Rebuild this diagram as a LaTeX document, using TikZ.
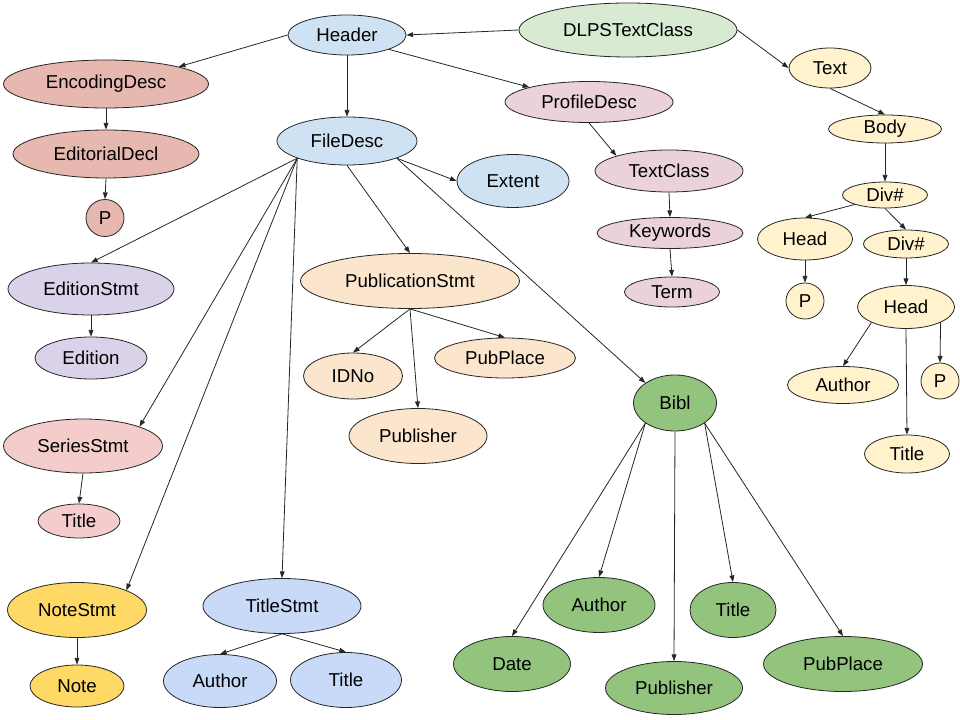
\documentclass[tikz,border=0pt]{standalone}
\usepackage{fontspec}
\setmainfont{Liberation Sans}
\usetikzlibrary{shapes.geometric,arrows.meta}

\definecolor{hdrblue}{HTML}{CFE2F3}
\definecolor{rootgreen}{HTML}{D9EAD3}
\definecolor{encberry}{HTML}{E6B8AF}
\definecolor{profpink}{HTML}{EAD1DC}
\definecolor{textyellow}{HTML}{FFF2CC}
\definecolor{edpurple}{HTML}{D9D2E9}
\definecolor{puborange}{HTML}{FCE5CD}
\definecolor{serred}{HTML}{F4CCCC}
\definecolor{notegold}{HTML}{FFD966}
\definecolor{titlecorn}{HTML}{C9DAF8}
\definecolor{biblgreen}{HTML}{93C47D}

\tikzset{
  elem/.style={ellipse, draw=black!85, line width=0.6pt, inner sep=0pt,
    font=\fontsize{14}{16}\selectfont},
  sz/.style 2 args={minimum width=#1*0.75pt, minimum height=#2*0.75pt},
  link/.style={draw=black!85, line width=0.6pt, -{Triangle[length=5pt,width=3.6pt]}}
}

\begin{document}
\begin{tikzpicture}[x=0.75pt, y=-0.75pt]
			%%%%% START %%%%%
			\useasboundingbox (0,0) rectangle (960,720);
			
			% top
			\node[elem, sz={218}{54}, fill=rootgreen] (dlps) at (628,30) {DLPSTextClass};
			\node[elem, sz={118}{40}, fill=hdrblue] (header) at (347,35) {Header};
			
			% encoding
			\node[elem, sz={205}{48}, fill=encberry] (encdesc) at (106,84) {EncodingDesc};
			\node[elem, sz={186}{48}, fill=encberry] (editdecl) at (106,154) {EditorialDecl};
			\node[elem, sz={38}{37}, fill=encberry] (edp) at (105,218) {P};
			
			% file description
			\node[elem, sz={140}{48}, fill=hdrblue] (filedesc) at (347,141) {FileDesc};
			\node[elem, sz={112}{53}, fill=hdrblue] (extent) at (513,181) {Extent};
			
			\node[elem, sz={166}{52}, fill=edpurple] (edstmt) at (91,289) {EditionStmt};
			\node[elem, sz={112}{42}, fill=edpurple] (edition) at (91,358) {Edition};
			
			\node[elem, sz={159}{54}, fill=serred] (serstmt) at (83,446) {SeriesStmt};
			\node[elem, sz={82}{34}, fill=serred] (sertitle) at (79,521) {Title};
			
			\node[elem, sz={139}{55}, fill=notegold] (notestmt) at (77,610) {NoteStmt};
			\node[elem, sz={94}{42}, fill=notegold] (note) at (77,686) {Note};
			
			\node[elem, sz={158}{55}, fill=titlecorn] (titlestmt) at (282,606) {TitleStmt};
			\node[elem, sz={113}{53}, fill=titlecorn] (tsauthor) at (220,681) {Author};
			\node[elem, sz={111}{55}, fill=titlecorn] (tstitle) at (346,680) {Title};
			
			\node[elem, sz={219}{55}, fill=puborange] (pubstmt) at (410,281) {PublicationStmt};
			\node[elem, sz={99}{46}, fill=puborange] (idno) at (353,376) {IDNo};
			\node[elem, sz={141}{40}, fill=puborange] (pubplace) at (505,358) {PubPlace};
			\node[elem, sz={138}{55}, fill=puborange] (publisher) at (418,436) {Publisher};
			
			% bibl
			\node[elem, sz={83}{56}, fill=biblgreen] (bibl) at (675,403) {Bibl};
			\node[elem, sz={117}{55}, fill=biblgreen] (bdate) at (512,664) {Date};
			\node[elem, sz={112}{55}, fill=biblgreen] (bauthor) at (599,605) {Author};
			\node[elem, sz={137}{53}, fill=biblgreen] (bpublisher) at (674,688) {Publisher};
			\node[elem, sz={86}{55}, fill=biblgreen] (btitle) at (733,610) {Title};
			\node[elem, sz={159}{55}, fill=biblgreen] (bpubplace) at (843,664) {PubPlace};
			
			% profile description
			\node[elem, sz={168}{41}, fill=profpink] (profdesc) at (589,102) {ProfileDesc};
			\node[elem, sz={148}{42}, fill=profpink] (textclass) at (669,171) {TextClass};
			\node[elem, sz={146}{31}, fill=profpink] (keywords) at (670,233) {Keywords};
			\node[elem, sz={95}{30}, fill=profpink] (term) at (672,292) {Term};
			
			% text
			\node[elem, sz={82}{40}, fill=textyellow] (text) at (830,68) {Text};
			\node[elem, sz={113}{28}, fill=textyellow] (body) at (885,129) {Body};
			\node[elem, sz={85}{26}, fill=textyellow] (diva) at (885,195) {Div\#};
			\node[elem, sz={95}{42}, fill=textyellow] (heada) at (805,239) {Head};
			\node[elem, sz={38}{36}, fill=textyellow] (headp) at (805,301) {P};
			\node[elem, sz={85}{28}, fill=textyellow] (divb) at (906,244) {Div\#};
			\node[elem, sz={97}{43}, fill=textyellow] (headb) at (906,307) {Head};
			\node[elem, sz={111}{37}, fill=textyellow] (divauthor) at (843,385) {Author};
			\node[elem, sz={38}{36}, fill=textyellow] (divp) at (940,381) {P};
			\node[elem, sz={85}{38}, fill=textyellow] (divtitle) at (907,454) {Title};
			
			% connectors
			\draw[link] (dlps.west) -- (header.east);
			\draw[link] (dlps.east) -- (text.west);
			\draw[link] (header.west) -- (encdesc.north east);
			\draw[link] (header.south) -- (filedesc.north);
			\draw[link] (header.south east) -- (profdesc.north west);
			
			\draw[link] (encdesc.south) -- (editdecl.north);
			\draw[link] (editdecl.south) -- (edp.north);
			
			\draw[link] (filedesc.south west) -- (edstmt.north);
			\draw[link] (filedesc.south west) -- (serstmt.north east);
			\draw[link] (filedesc.south west) -- (notestmt.north east);
			\draw[link] (filedesc.south west) -- (titlestmt.north);
			\draw[link] (filedesc.south) -- (pubstmt.north);
			\draw[link] (filedesc.south east) -- (extent.west);
			\draw[link] (filedesc.south east) -- (bibl.north west);
			
			\draw[link] (edstmt.south) -- (edition.north);
			\draw[link] (serstmt.south) -- (sertitle.north);
			\draw[link] (notestmt.south) -- (note.north);
			\draw[link] (titlestmt.south) -- (tsauthor.north);
			\draw[link] (titlestmt.south) -- (tstitle.north);
			
			\draw[link] (pubstmt.south) -- (idno.north);
			\draw[link] (pubstmt.south) -- (publisher.north);
			\draw[link] (pubstmt.south) -- (pubplace.north);
			
			\draw[link] (bibl.south west) -- (bdate.north);
			\draw[link] (bibl.south west) -- (bauthor.north);
			\draw[link] (bibl.south) -- (bpublisher.north);
			\draw[link] (bibl.south east) -- (btitle.north);
			\draw[link] (bibl.south east) -- (bpubplace.north);
			
			\draw[link] (profdesc.south) -- (textclass.north west);
			\draw[link] (textclass.south) -- (keywords.north);
			\draw[link] (keywords.south) -- (term.north);
			
			\draw[link] (text.south) -- (body.north);
			\draw[link] (body.south) -- (diva.north);
			\draw[link] (diva.south west) -- (heada.north);
			\draw[link] (diva.south) -- (divb.north);
			\draw[link] (heada.south) -- (headp.north);
			\draw[link] (divb.south) -- (headb.north);
			\draw[link] (headb.south west) -- (divauthor.north);
			\draw[link] (headb.south) -- (divtitle.north);
			\draw[link] (headb.south east) -- (divp.north);
			
			%%%%% END %%%%%
\end{tikzpicture}
\end{document}
